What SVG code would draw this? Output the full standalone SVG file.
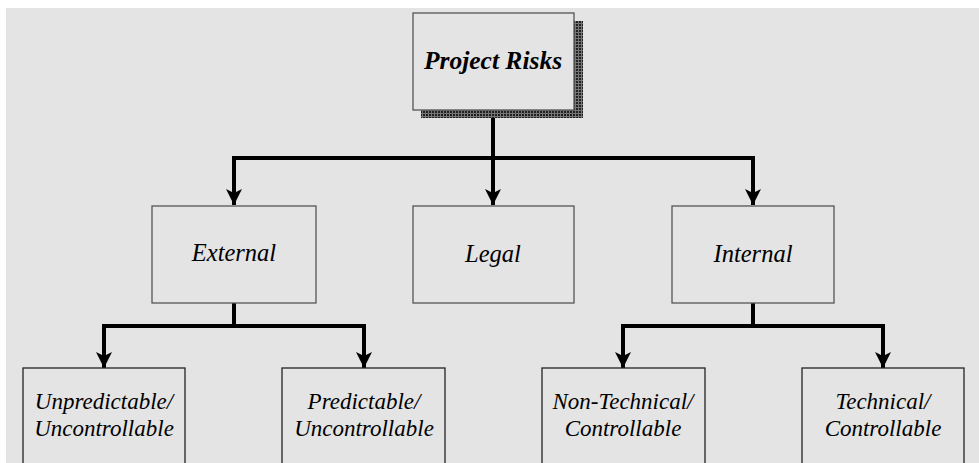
<svg xmlns="http://www.w3.org/2000/svg" width="979" height="463" viewBox="0 0 979 463">
  <defs>
    <style>
      .box { fill: #e4e4e4; stroke: #555; stroke-width: 1.3; }
      .leaf { fill: #e4e4e4; stroke: #222; stroke-width: 1.3; }
      .lbl { font-family: "Liberation Serif", "Times New Roman", serif; font-style: italic; font-size: 23px; fill: #000; text-anchor: middle; }
      .mid { font-size: 24.5px; }
      .title { font-family: "Liberation Serif", "Times New Roman", serif; font-style: italic; font-weight: bold; font-size: 25.5px; fill: #000; text-anchor: middle; }
      .conn { fill: none; stroke: #000; stroke-width: 4; stroke-linejoin: miter; }
    </style>
    <pattern id="hatch" width="3" height="3" patternUnits="userSpaceOnUse">
      <rect width="3" height="3" fill="#777"/>
      <rect width="2" height="2" fill="#222"/>
    </pattern>
    <marker id="arr" markerUnits="userSpaceOnUse" markerWidth="18" markerHeight="18" viewBox="0 0 18 18" refX="16" refY="9" orient="auto">
      <path d="M0,1 L16,9 L0,17 L4,9 Z" fill="#000"/>
    </marker>
  </defs>
  <rect x="0" y="0" width="979" height="463" fill="#ffffff"/>
  <rect x="6" y="8" width="973" height="455" fill="#e4e4e4"/>

  <g id="connectors">
    <path class="conn" d="M493,110 V205" marker-end="url(#arr)"/>
    <path class="conn" d="M234,158 H753"/>
    <path class="conn" d="M234,156 V205" marker-end="url(#arr)"/>
    <path class="conn" d="M753,156 V205" marker-end="url(#arr)"/>
    <path class="conn" d="M234,303 V326"/>
    <path class="conn" d="M104,326 H364"/>
    <path class="conn" d="M104,324 V368" marker-end="url(#arr)"/>
    <path class="conn" d="M364,324 V368" marker-end="url(#arr)"/>
    <path class="conn" d="M753,303 V326"/>
    <path class="conn" d="M623,326 H883"/>
    <path class="conn" d="M623,324 V368" marker-end="url(#arr)"/>
    <path class="conn" d="M883,324 V368" marker-end="url(#arr)"/>
  </g>

  <g id="project-risks">
    <rect x="421" y="21" width="162" height="97" fill="url(#hatch)"/>
    <rect class="box" x="413" y="13" width="161" height="97"/>
    <text class="title" x="493" y="69">Project Risks</text>
  </g>
  <g id="external">
    <rect class="box" x="152" y="206" width="164" height="97"/>
    <text class="lbl mid" x="234" y="261">External</text>
  </g>
  <g id="legal">
    <rect class="box" x="413" y="206" width="161" height="97"/>
    <text class="lbl mid" x="493" y="262">Legal</text>
  </g>
  <g id="internal">
    <rect class="box" x="672" y="206" width="162" height="97"/>
    <text class="lbl mid" x="753" y="262">Internal</text>
  </g>
  <g id="unpredictable">
    <rect class="leaf" x="23" y="368" width="162" height="110"/>
    <text class="lbl" x="104" y="409">Unpredictable/</text>
    <text class="lbl" x="104" y="436">Uncontrollable</text>
  </g>
  <g id="predictable">
    <rect class="leaf" x="282" y="368" width="163" height="110"/>
    <text class="lbl" x="364" y="409">Predictable/</text>
    <text class="lbl" x="364" y="436">Uncontrollable</text>
  </g>
  <g id="non-technical">
    <rect class="leaf" x="542" y="368" width="163" height="110"/>
    <text class="lbl" x="623" y="409">Non-Technical/</text>
    <text class="lbl" x="623" y="436">Controllable</text>
  </g>
  <g id="technical">
    <rect class="leaf" x="802" y="368" width="162" height="110"/>
    <text class="lbl" x="883" y="409">Technical/</text>
    <text class="lbl" x="883" y="436">Controllable</text>
  </g>
</svg>
